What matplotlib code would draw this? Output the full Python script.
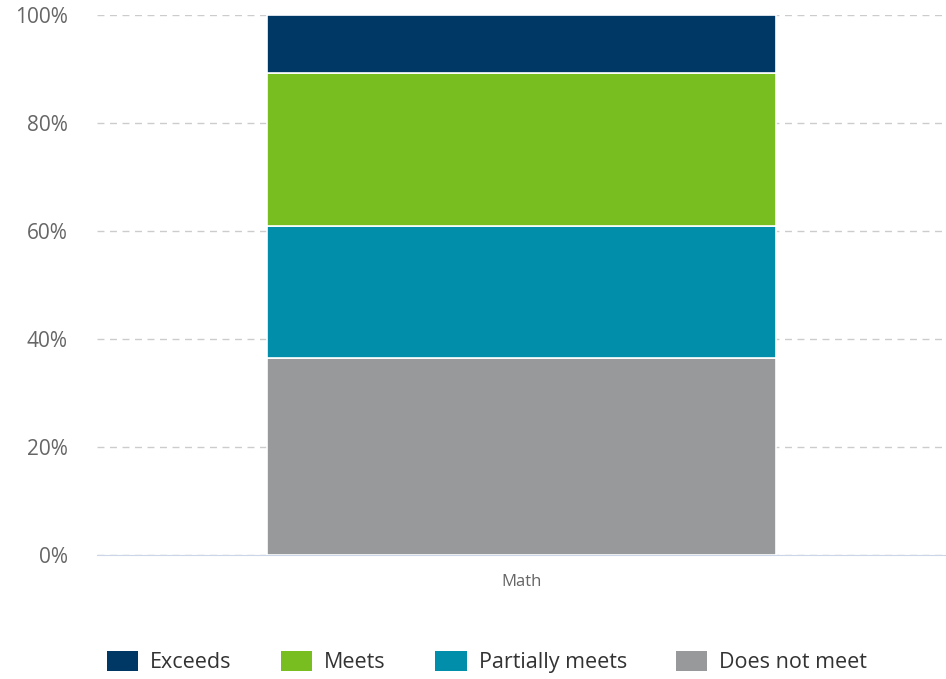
import matplotlib.pyplot as plt
from matplotlib.patches import Patch
from matplotlib.ticker import FuncFormatter

plt.rcParams['font.family'] = ['Open Sans', 'DejaVu Sans']

categories = ['Math']
levels = ['Exceeds', 'Meets', 'Partially meets', 'Does not meet']
colors = ['#003865', '#78BE20', '#008EAA', '#97999B']
# stacked bottom to top: Does not meet, Partially meets, Meets, Exceeds
does_not_meet = [36.5]
partially_meets = [24.4]
meets = [28.3]
exceeds = [10.8]

fig = plt.figure(figsize=(9.46, 6.79), dpi=100)
ax = fig.add_axes([0.1025, 0.1826, 0.8975, 0.7952])

bottom = [0.0]
stack = [(does_not_meet, colors[3]), (partially_meets, colors[2]),
         (meets, colors[1]), (exceeds, colors[0])]
for vals, c in stack:
    ax.bar(categories, vals, bottom=bottom, width=0.6, color=c,
           edgecolor='white', linewidth=1.2, zorder=3)
    bottom = [b + v for b, v in zip(bottom, vals)]

ax.set_xlim(-0.5, 0.5)
ax.set_ylim(0, 100)
ax.set_yticks([0, 20, 40, 60, 80, 100])
ax.yaxis.set_major_formatter(FuncFormatter(lambda v, p: f'{v:.0f}%'))
ax.grid(axis='y', color='#cccccc', linestyle=(0, (5, 4)), linewidth=1, zorder=0)
ax.set_axisbelow(True)
for s in ['top', 'right', 'left']:
    ax.spines[s].set_visible(False)
ax.spines['bottom'].set_color('#ccd6eb')
ax.tick_params(axis='y', length=0, pad=21, labelsize=15, labelcolor='#666666')
ax.tick_params(axis='x', length=0, pad=14, labelsize=12, labelcolor='#666666')

handles = [Patch(facecolor=c, label=l) for c, l in zip(colors, levels)]
fig.legend(handles=handles, loc='center', bbox_to_anchor=(0.515, 0.025), ncol=4,
           frameon=False, fontsize=15.5, handlelength=1.45, handleheight=1.05,
           columnspacing=2.3, handletextpad=0.55, labelcolor='#333333')

fig.savefig('out.png', dpi=100)
